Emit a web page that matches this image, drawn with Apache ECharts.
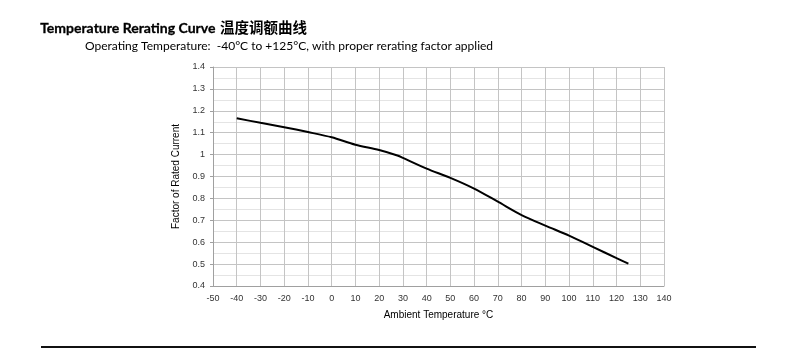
<!DOCTYPE html>
<html><head><meta charset="utf-8">
<script src="https://cdn.jsdelivr.net/npm/echarts@6/dist/echarts.min.js"></script>
<style>html,body{margin:0;padding:0;background:#fff}#c{width:785px;height:354px}</style>
</head><body><div id="c"></div>
<script>
const temps   = [-40, -30, -20, -10, 0, 10, 20, 28, 30, 40, 50, 60, 70, 80, 90, 100, 110, 120, 125];
const factors = [1.166, 1.145, 1.125, 1.103, 1.079, 1.045, 1.021, 0.995, 0.985, 0.936, 0.894, 0.845, 0.785, 0.724, 0.676, 0.630, 0.579, 0.527, 0.502];
const titleLatin = 'Temperature Rerating Curve';
const titleCJK = '温度调额曲线';
const subtitleText = 'Operating Temperature:  -40°C to +125°C, with proper rerating factor applied';
const xName = 'Ambient Temperature °C';
const yName = 'Factor of Rated Current';

const chart = echarts.init(document.getElementById('c'), null, {renderer: 'canvas'});
chart.setOption({
  animation: false,
  grid: {left: 213, right: 121, top: 67, bottom: 68},
  graphic: [
    {type: 'text', left: 40, top: 21, style: {text: titleLatin, font: 'bold 14px Lato', fill: '#000', stroke: '#000', lineWidth: 0.3}},
    {type: 'text', left: 220, top: 20, style: {text: titleCJK, font: 'bold 14.5px "Noto Sans CJK SC"', fill: '#000'}},
    {type: 'text', left: 85, top: 40, style: {text: subtitleText, font: '12px Lato', fill: '#000'}},
    {type: 'rect', shape: {x: 41, y: 346, width: 715, height: 2}, style: {fill: '#111'}}
  ],
  xAxis: {
    type: 'value', min: -50, max: 140, interval: 10,
    name: xName, nameLocation: 'middle', nameGap: 24,
    nameTextStyle: {fontFamily: 'Liberation Sans', fontSize: 10, color: '#000'},
    axisLine: {show: true, onZero: false, lineStyle: {color: '#a0a0a0'}},
    axisTick: {show: false},
    axisLabel: {fontFamily: 'Liberation Sans', fontSize: 9, color: '#333', margin: 8},
    splitLine: {show: true, lineStyle: {color: '#c4c4c4'}}
  },
  yAxis: {
    type: 'value', min: 0.4, max: 1.4, interval: 0.1,
    name: yName, nameLocation: 'middle', nameGap: 28, nameRotate: 90,
    nameTextStyle: {fontFamily: 'Liberation Sans', fontSize: 10, color: '#000'},
    axisLine: {show: true, onZero: false, lineStyle: {color: '#a0a0a0'}},
    axisTick: {show: true, length: 3, lineStyle: {color: '#a0a0a0'}},
    axisLabel: {fontFamily: 'Liberation Sans', fontSize: 9, color: '#333', margin: 8,
      formatter: v => String(Math.round(v * 10) / 10)},
    splitLine: {show: true, lineStyle: {color: '#c4c4c4'}},
    minorTick: {show: false, splitNumber: 2},
    minorSplitLine: {show: true, lineStyle: {color: '#e4e4e4'}}
  },
  series: [{
    type: 'line', data: temps.map((t, i) => [t, factors[i]]),
    showSymbol: false, smooth: 0.3,
    lineStyle: {color: '#000', width: 2}
  }]
});
</script></body></html>
